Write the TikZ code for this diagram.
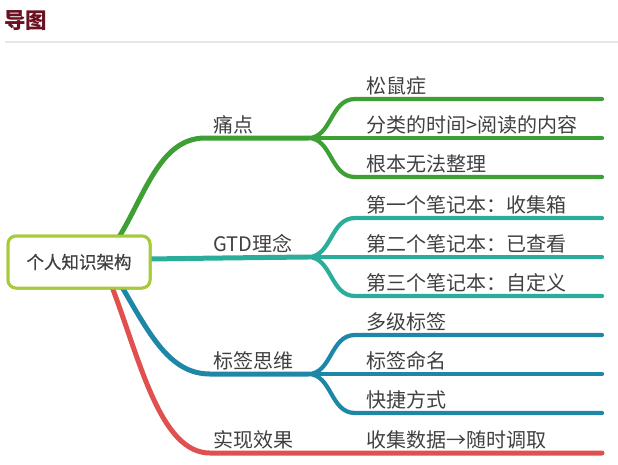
\documentclass[tikz,border=0pt]{standalone}
\usepackage{fontspec}
\setmainfont{Noto Sans CJK SC}
\newfontfamily\rootfont[FakeBold=0.6]{Noto Sans CJK SC}
\definecolor{cgreen}{HTML}{3EA034}
\definecolor{cteal}{HTML}{2AAD9A}
\definecolor{cblue}{HTML}{1E87A8}
\definecolor{cred}{HTML}{E0504E}
\definecolor{croot}{HTML}{A6CB3A}
\definecolor{ctext}{HTML}{404040}
\definecolor{ctitle}{HTML}{6B1222}
\definecolor{csep}{HTML}{E6E6E6}
\tikzset{
  trunk/.style={line width=5pt,line cap=round},
  twig/.style={line width=4.2pt,line cap=round},
  lbl/.style={anchor=south west,inner sep=0pt,text=ctext,font=\fontsize{20}{23}\selectfont},
  rootbox/.style={draw=croot,line width=3pt,rounded corners=8pt,fill=white,minimum width=142pt,minimum height=52pt,text=ctext,font=\fontsize{17.5}{20}\selectfont\rootfont},
}
\begin{document}
\begin{tikzpicture}[x=1pt,y=-1pt]
\useasboundingbox (0,0) rectangle (618,464);
% title
\node[anchor=south west,inner sep=0pt,text=ctitle,font=\fontsize{21.5}{24}\selectfont\bfseries] (title) at (4,31) {导图};
\coordinate (sepL) at (5,42);
\coordinate (sepR) at (618,42);
\draw[csep,line width=1.5pt] (sepL) -- (sepR);

% root
\node[rootbox] (root) at (79,262) {个人知识架构};

% coordinates
\coordinate (gS) at (119,237);
\coordinate (gK) at (205,138);
\coordinate (gP) at (308,138);
\coordinate (g1) at (355,99);
\coordinate (g1e) at (602,99);
\coordinate (g2e) at (602,138);
\coordinate (g3) at (355,177);
\coordinate (g3e) at (602,177);

\coordinate (tS) at (149,259);
\coordinate (tP) at (308,257);
\coordinate (t1) at (355,218);
\coordinate (t1e) at (602,218);
\coordinate (t2e) at (602,257);
\coordinate (t3) at (355,296);
\coordinate (t3e) at (602,296);

\coordinate (bS) at (122,287);
\coordinate (bK) at (210,374);
\coordinate (bP) at (308,374);
\coordinate (b1) at (355,335);
\coordinate (b1e) at (602,335);
\coordinate (b2e) at (602,374);
\coordinate (b3) at (355,413);
\coordinate (b3e) at (602,413);

\coordinate (rS) at (112,287);
\coordinate (rK) at (210,453);
\coordinate (rE) at (602,453);

% green
\draw[cgreen,trunk] (gS) .. controls (145,195) and (160,138) .. (gK) -- (gP);
\draw[cgreen,twig] (gP) .. controls (332,138) and (330,99) .. (g1) -- (g1e);
\draw[cgreen,twig] (gP) -- (g2e);
\draw[cgreen,twig] (gP) .. controls (332,138) and (330,177) .. (g3) -- (g3e);

% teal
\draw[cteal,trunk] (tS) .. controls (220,258) .. (tP);
\draw[cteal,twig] (tP) .. controls (332,257) and (330,218) .. (t1) -- (t1e);
\draw[cteal,twig] (tP) -- (t2e);
\draw[cteal,twig] (tP) .. controls (332,257) and (330,296) .. (t3) -- (t3e);

% blue
\draw[cblue,trunk] (bS) .. controls (150,335) and (170,374) .. (bK) -- (bP);
\draw[cblue,twig] (bP) .. controls (332,374) and (330,335) .. (b1) -- (b1e);
\draw[cblue,twig] (bP) -- (b2e);
\draw[cblue,twig] (bP) .. controls (332,374) and (330,413) .. (b3) -- (b3e);

% red
\draw[cred,trunk] (rS) .. controls (140,360) and (160,453) .. (rK) -- (rE);

% root on top
\node[rootbox] at (root) {个人知识架构};

% labels
\node[lbl] (l1) at (213,134) {痛点};
\node[lbl] (l11) at (366,95) {松鼠症};
\node[lbl] (l12) at (366,134) {分类的时间>阅读的内容};
\node[lbl] (l13) at (366,173) {根本无法整理};

\node[lbl] (l2) at (213,253) {GTD理念};
\node[lbl] (l21) at (366,214) {第一个笔记本：收集箱};
\node[lbl] (l22) at (366,253) {第二个笔记本：已查看};
\node[lbl] (l23) at (366,292) {第三个笔记本：自定义};

\node[lbl] (l3) at (213,370) {标签思维};
\node[lbl] (l31) at (366,331) {多级标签};
\node[lbl] (l32) at (366,370) {标签命名};
\node[lbl] (l33) at (366,409) {快捷方式};

\node[lbl] (l4) at (213,449) {实现效果};
\node[lbl] (l41) at (366,449) {收集数据→随时调取};
\end{tikzpicture}
\end{document}
